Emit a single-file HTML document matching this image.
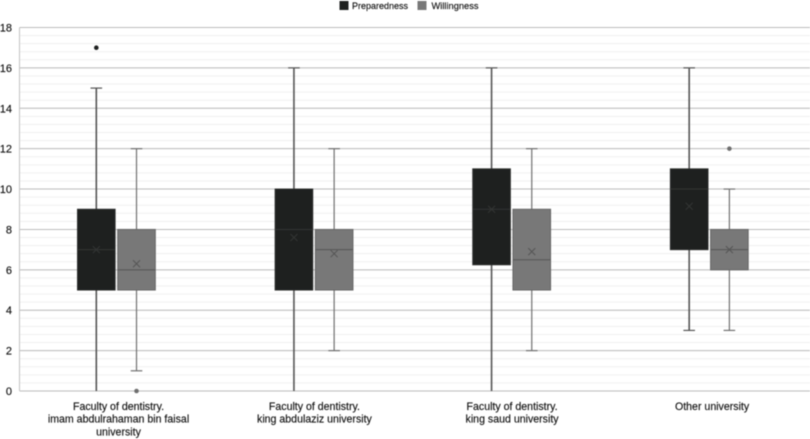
<!DOCTYPE html>
<html lang="en">
<head>
<meta charset="utf-8">
<title>Preparedness and willingness box plot</title>
<style>
html,body{margin:0;padding:0;background:#fff;width:810px;height:439px;overflow:hidden}
svg{display:block;filter:blur(0.45px)}
text{font-family:"Liberation Sans",sans-serif;fill:#111;stroke:#111;stroke-width:0.15px}
</style>
</head>
<body>
<svg id="chart" xmlns="http://www.w3.org/2000/svg" width="810" height="439" viewBox="0 0 810 439"></svg>
<script>
const categories = [
  ["Faculty of dentistry.", "imam abdulrahaman bin faisal", "university"],
  ["Faculty of dentistry.", "king abdulaziz university"],
  ["Faculty of dentistry.", "king saud university"],
  ["Other university"]
];
const seriesNames = ["Preparedness", "Willingness"];
const yTicks = [0, 2, 4, 6, 8, 10, 12, 14, 16, 18];
const minorStep = 0.4;

const prepMin = [0, 0, 0, 3];
const prepQ1 = [5, 5, 6.25, 7];
const prepMedian = [7, 8, 9, 10];
const prepQ3 = [9, 10, 11, 11];
const prepMax = [15, 16, 16, 16];
const prepMean = [7, 7.6, 9, 9.15];
const prepOutliers = [[17], [], [], []];

const willMin = [1, 2, 2, 3];
const willQ1 = [5, 5, 5, 6];
const willMedian = [6, 7, 6.5, 7];
const willQ3 = [8, 8, 9, 8];
const willMax = [12, 12, 12, 10];
const willMean = [6.3, 6.8, 6.9, 7];
const willOutliers = [[0], [], [], [12]];

const NS = "http://www.w3.org/2000/svg";
const svg = document.getElementById("chart");
const plot = { left: 19.5, right: 810, top: 27.5, bottom: 391 };
const yMax = yTicks[yTicks.length - 1];
const labelOffset = [0.2, -1.5, -1.5, 0.9];

function y(v) { return plot.bottom - (v / yMax) * (plot.bottom - plot.top); }
function xBand(i) { return plot.left + (i + 0.5) * (plot.right - plot.left) / categories.length; }

function make(tag, attrs, parent) {
  const el = document.createElementNS(NS, tag);
  for (const k in attrs) el.setAttribute(k, attrs[k]);
  (parent || svg).appendChild(el);
  return el;
}

const gridGroup = make("g", {});


const minorCount = Math.round(yMax / minorStep);
for (let n = 0; n <= minorCount; n++) {
  const v = n * minorStep;
  const line = make("line", { x1: plot.left, x2: plot.right, y1: y(v), y2: y(v), stroke: "#f0f0f0", "stroke-width": 1 }, gridGroup);
  
  
}
yTicks.forEach(function (t) {
  const line = make("line", { x1: plot.left, x2: plot.right, y1: y(t), y2: y(t), stroke: "#bcbcbc", "stroke-width": 1 }, gridGroup);
  
  
  const label = make("text", { x: 12, y: y(t) + 4, "text-anchor": "end", "font-size": 11 });
  label.textContent = t;
  
  
});
const yAxis = make("line", { x1: plot.left, x2: plot.left, y1: plot.top, y2: plot.bottom, stroke: "#c4c4c4", "stroke-width": 1 });



function drawBox(i, cx, s) {
  const g = make("g", {});
  
  
  const half = 18.8, cap = 5.8;
  const whisker = make("line", { x1: cx, x2: cx, y1: y(s.max[i]), y2: y(s.min[i]), stroke: s.whisker, "stroke-width": s.whiskerW }, g);
  
  
  [s.max[i], s.min[i]].forEach(function (v) {
    if (v === 0) return;
    const c = make("line", { x1: cx - cap, x2: cx + cap, y1: y(v), y2: y(v), stroke: s.whisker, "stroke-width": 1.2 }, g);
    
    
  });
  const box = make("rect", { x: cx - half, y: y(s.q3[i]), width: half * 2, height: y(s.q1[i]) - y(s.q3[i]), fill: s.fill, stroke: s.edge, "stroke-width": 1 }, g);
  
  
  const med = make("line", { x1: cx - half, x2: cx + half, y1: y(s.median[i]), y2: y(s.median[i]), stroke: s.mark, "stroke-width": 1 }, g);
  
  
  const my = y(s.mean[i]), r = 3.5;
  const mean = make("path", { d: "M" + (cx - r) + " " + (my - r) + "L" + (cx + r) + " " + (my + r) + "M" + (cx - r) + " " + (my + r) + "L" + (cx + r) + " " + (my - r), stroke: s.mark, "stroke-width": 1, fill: "none" }, g);
  
  
  s.outliers[i].forEach(function (v) {
    const o = make("circle", { cx: cx, cy: y(v), r: 2.3, fill: s.dot }, g);
    
    
  });
}

const prepStyle = { name: "preparedness", min: prepMin, q1: prepQ1, median: prepMedian, q3: prepQ3, max: prepMax, mean: prepMean, outliers: prepOutliers, fill: "#1e201f", edge: "#2b2d2c", mark: "#333534", whisker: "#555555", whiskerW: 1.6, dot: "#1f2120" };
const willStyle = { name: "willingness", min: willMin, q1: willQ1, median: willMedian, q3: willQ3, max: willMax, mean: willMean, outliers: willOutliers, fill: "#787878", edge: "#666666", mark: "#555555", whisker: "#707070", whiskerW: 1.2, dot: "#6f6f6f" };

categories.forEach(function (lines, i) {
  const c = xBand(i);
  drawBox(i, c - 22, prepStyle);
  drawBox(i, c + 18.2, willStyle);
  lines.forEach(function (t, j) {
    const label = make("text", { x: c + labelOffset[i], y: 410 + j * 12.7, "text-anchor": "middle", "font-size": 10.6 });
    label.textContent = t;
    
    
  });
});

const legendX = [339.5, 417.5];
const legendFill = ["#1f2120", "#787878"];
const legendTextGap = [12.5, 14];
const legendFontSize = [9, 9.3];
seriesNames.forEach(function (n, i) {
  const g = make("g", {});
  
  
  const sw = make("rect", { x: legendX[i], y: 1, width: 9, height: 9, fill: legendFill[i] }, g);
  
  
  const t = make("text", { x: legendX[i] + legendTextGap[i], y: 9, "font-size": legendFontSize[i] }, g);
  t.textContent = n;
  
  
});
</script>
</body>
</html>
